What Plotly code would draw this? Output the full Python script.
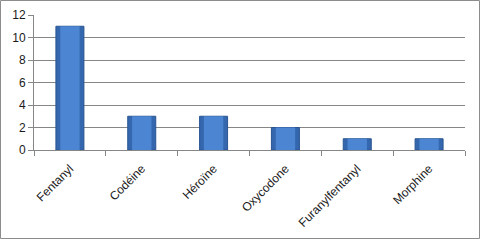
import plotly.graph_objects as go

categories = ["Fentanyl", "Codéine", "Héroïne", "Oxycodone", "Furanylfentanyl", "Morphine"]
values = [11, 3, 3, 2, 1, 1]
y_ticks = [0, 2, 4, 6, 8, 10, 12]

W, H = 481, 240
ML, MR, MT, MB = 34, 16, 15, 90

fig = go.Figure()
fig.add_trace(go.Bar(x=categories, y=values, width=0.39,
                     marker=dict(color="#3467ae", line=dict(color="#2a5592", width=1)),
                     hoverinfo="x+y"))
fig.add_trace(go.Bar(x=categories, y=values, width=0.27,
                     marker=dict(color="#4c85d2", line=dict(width=0)),
                     hoverinfo="skip"))

pw = W - ML - MR
ph = H - MT - MB
fig.add_shape(type="rect", xref="paper", yref="paper",
              x0=(-ML + 0.5) / pw, x1=(pw + MR - 1.5) / pw,
              y0=(-MB + 1.5) / ph, y1=(ph + MT - 0.5) / ph,
              line=dict(color="#8c8c8c", width=1), fillcolor="rgba(0,0,0,0)", layer="below")

fig.update_layout(
    width=W, height=H, barmode="overlay", showlegend=False,
    margin=dict(l=ML, r=MR, t=MT, b=MB, autoexpand=False),
    paper_bgcolor="white", plot_bgcolor="white",
    font=dict(family="Liberation Sans", size=12, color="#1a1a1a"),
    xaxis=dict(type="category", tickangle=-45, ticks="outside", tickson="boundaries",
               ticklen=5, tickcolor="#868686", showline=True, linecolor="#868686",
               linewidth=1, showgrid=False, tickfont=dict(size=12),
               ticklabelstandoff=6, automargin=False),
    yaxis=dict(range=[0, 12], tickvals=y_ticks, ticks="outside", ticklen=5,
               tickcolor="#868686", showline=True, linecolor="#868686", linewidth=1,
               showgrid=True, gridcolor="#868686", gridwidth=1, zeroline=False,
               tickfont=dict(size=12), automargin=False),
)

fig.write_html("out.html")
